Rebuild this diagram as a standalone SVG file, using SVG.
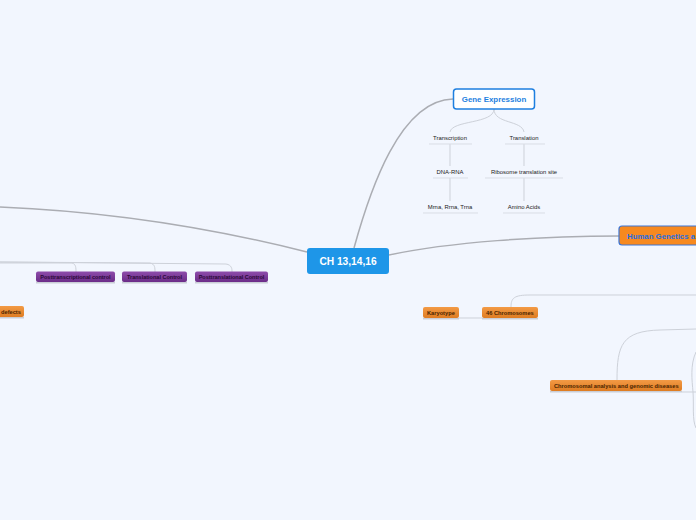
<svg xmlns="http://www.w3.org/2000/svg" width="696" height="520" viewBox="0 0 696 520">
<defs>
<linearGradient id="gOr" x1="0" y1="0" x2="0" y2="1"><stop offset="0" stop-color="#F39A45"/><stop offset="1" stop-color="#DE7C22"/></linearGradient>
<linearGradient id="gPu" x1="0" y1="0" x2="0" y2="1"><stop offset="0" stop-color="#8E4CAB"/><stop offset="1" stop-color="#6B2C88"/></linearGradient>
<style>
.main{fill:none;stroke:#ABADB3;stroke-width:1.5}
.sub{fill:none;stroke:#CDD1D9;stroke-width:1}
.ul{stroke:#D9DDE5;stroke-width:1}
.t{font-family:"Liberation Sans",Arial,sans-serif}
.small{font-size:5.9px;fill:#222;text-anchor:middle}
.or{fill:url(#gOr)}
.pu{fill:url(#gPu)}
.ot{font-size:5.7px;fill:#4A2400;font-weight:bold}
.pt{font-size:5.5px;fill:#2A0838;font-weight:bold;text-anchor:middle}
.sh{fill:#C9CDD6}
</style>
</defs>
<rect width="696" height="520" fill="#F2F6FE"/>
<g id="connectors">
<path class="main" d="M354,248 C370,190 400,100 453,99"/>
<path class="main" d="M389,255 C450,242 540,236 619,236"/>
<path class="main" d="M307,252 C220,230 120,212 0,207"/>
<path class="sub" d="M494,109 C494,124 452,120 450,132"/>
<path class="sub" d="M494,109 C494,124 522,120 524,132"/>
<path class="sub" d="M450,144 L450,166"/>
<path class="sub" d="M450,178 L450,201"/>
<path class="sub" d="M524,144 L524,166"/>
<path class="sub" d="M524,178 L524,201"/>
<path class="sub" d="M0,263 L72,263 C76,264 76,268 76,272"/>
<path class="sub" d="M0,262 L150,263 C155,264 155,268 155,272"/>
<path class="sub" d="M0,262 L226,264 C232,265 232,269 232,272"/>
<path class="sub" d="M459,318 L482,318"/>
<path class="sub" d="M511,307 C511,298 514,295 530,295 L696,295"/>
<path class="sub" d="M617,380 C617,345 622,331 660,330 L696,329"/>
<path class="sub" d="M682,392 L696,392"/>
<path class="sub" d="M696,352 C690,365 692,380 693,392 C694,405 692,420 696,428"/>
</g>
<g id="central">
<rect x="307" y="248" width="82" height="26" rx="3" fill="#1E96E8"/>
<text class="t" x="348" y="265" font-size="10.2" font-weight="bold" fill="#fff" text-anchor="middle">CH 13,14,16</text>
</g>
<g id="gene-expression">
<rect x="453.5" y="89" width="81" height="20" rx="3" fill="#fff" stroke="#1E7FE0" stroke-width="1.5"/>
<text class="t" x="494" y="101.6" font-size="7.9" font-weight="bold" fill="#1E7FE0" text-anchor="middle">Gene Expression</text>
</g>
<g id="transcription"><text class="t small" x="450" y="140">Transcription</text><line class="ul" x1="429" y1="144" x2="472" y2="144"/></g>
<g id="translation"><text class="t small" x="524" y="140">Translation</text><line class="ul" x1="505" y1="144" x2="545" y2="144"/></g>
<g id="dna-rna"><text class="t small" x="450" y="174">DNA-RNA</text><line class="ul" x1="433" y1="178" x2="468" y2="178"/></g>
<g id="ribosome"><text class="t small" x="524" y="174">Ribosome translation site</text><line class="ul" x1="485" y1="178" x2="563" y2="178"/></g>
<g id="rna-types"><text class="t small" x="450" y="209">Mrna, Rrna, Trna</text><line class="ul" x1="423" y1="213" x2="478" y2="213"/></g>
<g id="amino"><text class="t small" x="524" y="209">Amino Acids</text><line class="ul" x1="503" y1="213" x2="545" y2="213"/></g>
<g id="human-genetics">
<rect x="619" y="226" width="90" height="19" rx="3" fill="#F7891F" stroke="#3A74D6" stroke-width="1.2"/>
<text class="t" x="627" y="238.6" font-size="7.8" font-weight="bold" fill="#1E6FE0">Human Genetics a</text>
</g>
<g id="posttranscriptional">
<rect class="sh" x="36" y="282" width="79" height="1.5"/>
<rect class="pu" x="36" y="271.5" width="79" height="10.5" rx="2"/>
<text class="t pt" x="75.5" y="278.8">Posttranscriptional control</text>
</g>
<g id="translational">
<rect class="sh" x="122" y="282" width="65" height="1.5"/>
<rect class="pu" x="122" y="271.5" width="65" height="10.5" rx="2"/>
<text class="t pt" x="154.5" y="278.8">Translational Control</text>
</g>
<g id="posttranslational">
<rect class="sh" x="195" y="282" width="73" height="1.5"/>
<rect class="pu" x="195" y="271.5" width="73" height="10.5" rx="2"/>
<text class="t pt" x="231.5" y="278.8">Posttranslational Control</text>
</g>
<g id="defects">
<rect class="sh" x="-5" y="317" width="29" height="1.5"/>
<rect class="or" x="-5" y="306" width="29" height="11" rx="2"/>
<text class="t ot" x="1" y="313.9">defects</text>
</g>
<g id="karyotype">
<rect class="sh" x="423" y="318" width="36" height="1.5"/>
<rect class="or" x="423" y="307" width="36" height="11" rx="2"/>
<text class="t ot" x="427" y="314.9">Karyotype</text>
</g>
<g id="chromosomes46">
<rect class="sh" x="482" y="318" width="56" height="1.5"/>
<rect class="or" x="482" y="307" width="56" height="11" rx="2"/>
<text class="t ot" x="486" y="314.9">46 Chromosomes</text>
</g>
<g id="chromosomal-analysis">
<rect class="sh" x="550" y="391" width="132" height="1.5"/>
<rect class="or" x="550" y="380" width="132" height="11" rx="2"/>
<text class="t ot" x="554" y="387.9">Chromosomal analysis and genomic diseases</text>
</g>
</svg>
